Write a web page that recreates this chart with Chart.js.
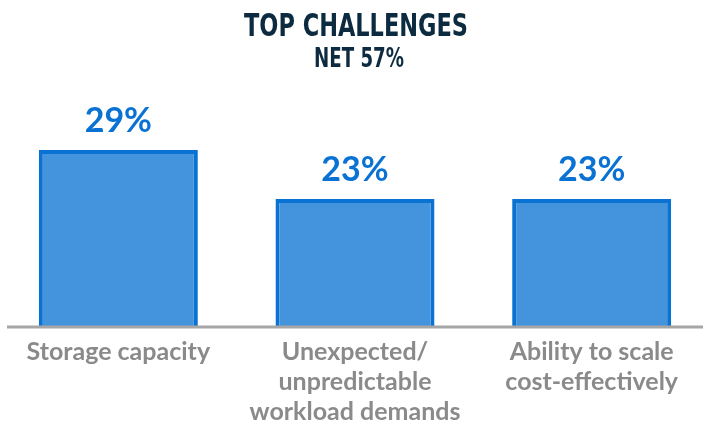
<!DOCTYPE html>
<html>
<head>
<meta charset="utf-8">
<script src="https://cdn.jsdelivr.net/npm/chart.js@4/dist/chart.umd.min.js"></script>
<style>
  html, body { margin: 0; padding: 0; background: #fff; overflow: hidden; }
  #wrap { position: relative; width: 710px; height: 439px; }
</style>
</head>
<body>
<div id="wrap"><canvas id="myChart"></canvas></div>
<script>
// chart data
const titleText = 'TOP CHALLENGES';
const subtitleText = 'NET 57%';
const categories = [
    ['Storage capacity'],
    ['Unexpected/', 'unpredictable', 'workload demands'],
    ['Ability to scale', 'cost-effectively']
];
const shares = [29, 23, 23];

const blue = '#0a72d2';
const navy = '#0d2b40';
const grey = '#8a8a8a';

// title drawn squeezed, like the condensed headline font
const headline = {
    id: 'headline',
    afterDraw(chart) {
        const c = chart.ctx;
        const lines = [
            { text: titleText, size: 32, y: 36, x: 356, w: 224 },
            { text: subtitleText, size: 26, y: 66.5, x: 359, w: 90 }
        ];
        c.save();
        c.fillStyle = navy;
        c.textAlign = 'center';
        c.textBaseline = 'alphabetic';
        for (let l of lines) {
            c.font = 'bold ' + l.size + 'px "Liberation Sans Narrow", "DejaVu Sans Condensed", sans-serif';
            let sx = l.w / c.measureText(l.text).width;
            c.save();
            c.translate(l.x, l.y);
            c.scale(sx, 1);
            c.fillText(l.text, 0, 0);
            c.restore();
        }
        c.restore();
    }
};

// percent labels above bars + grey baseline
const barLabels = {
    id: 'barLabels',
    afterDatasetsDraw(chart) {
        const c = chart.ctx;
        const meta = chart.getDatasetMeta(0);
        c.save();
        c.fillStyle = blue;
        c.font = 'bold 34px Lato, sans-serif';
        c.textAlign = 'center';
        c.textBaseline = 'alphabetic';
        meta.data.forEach(function(bar, i) {
            c.fillText(shares[i] + '%', bar.x, bar.y - 18);
        });
        const base = chart.scales.y.bottom;
        c.strokeStyle = '#a6a6a6';
        c.lineWidth = 3;
        c.beginPath();
        c.moveTo(7, base);
        c.lineTo(chart.width, base);
        c.stroke();
        c.restore();
    }
};

var ctx = document.getElementById('myChart').getContext('2d');
var chart = new Chart(ctx, {
    type: 'bar',
    data: {
        labels: categories,
        datasets: [{
            data: shares,
            backgroundColor: '#4394dc',
            borderColor: blue,
            borderWidth: 4,
            categoryPercentage: 1,
            barPercentage: 0.672
        }]
    },
    options: {
        responsive: true,
        maintainAspectRatio: false,
        animation: false,
        layout: { padding: { top: 101, bottom: 2, left: 0, right: 0 } },
        plugins: {
            legend: { display: false },
            tooltip: { enabled: false }
        },
        scales: {
            x: {
                grid: { display: false, drawTicks: false },
                border: { display: false },
                ticks: {
                    color: grey,
                    padding: 10,
                    maxRotation: 0,
                    autoSkip: false,
                    font: { family: 'Lato', weight: 'bold', size: 25, lineHeight: 1.2 }
                }
            },
            y: {
                display: false,
                min: 7.35,
                max: 35
            }
        }
    },
    plugins: [headline, barLabels]
});
</script>
</body>
</html>
